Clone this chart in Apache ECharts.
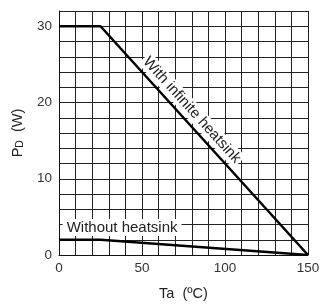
<!DOCTYPE html>
<html><head><meta charset="utf-8">
<script src="https://cdn.jsdelivr.net/npm/echarts@6/dist/echarts.min.js"></script>
<style>html,body{margin:0;padding:0;background:#fff}#c{width:329px;height:306px}</style>
</head><body><div id="c"></div>
<script>
const infiniteX = [0, 25, 150];
const infiniteY = [30, 30, 0];
const withoutX = [0, 25, 150];
const withoutY = [2, 2, 0];
const xLabels = [0, 50, 100, 150];
const yLabels = [0, 10, 20, 30];
const labelInfinite = {text: 'With infinite heatsink', x: 80, y: 19};
const labelWithout = {text: 'Without heatsink', x: 38, y: 3.6};

const FONT = '"Liberation Sans", Arial, sans-serif';
const chart = echarts.init(document.getElementById('c'));
const pair = (xs, ys) => xs.map((x, i) => [x, ys[i]]);
chart.setOption({
  animation: false,
  grid: {left: 59, right: 21, top: 11, bottom: 45},
  xAxis: {
    type: 'value', min: 0, max: 150, interval: 10,
    name: 'Ta  (ºC)', nameLocation: 'middle', nameGap: 31,
    nameTextStyle: {color: '#222', fontSize: 14.5, fontFamily: FONT},
    axisLine: {show: true, lineStyle: {color: '#111', width: 1}},
    axisTick: {show: false},
    splitLine: {show: true, lineStyle: {color: '#222', width: 1}},
    axisLabel: {color: '#333', fontSize: 13.5, fontFamily: FONT, margin: 6,
      formatter: v => xLabels.includes(v) ? String(v) : ''}
  },
  yAxis: {
    type: 'value', min: 0, max: 32, interval: 2,
    name: 'P{s|D}  (W)', nameLocation: 'middle', nameGap: 33, nameRotate: 90,
    nameTextStyle: {color: '#222', fontSize: 14.5, fontFamily: FONT,
      rich: {s: {fontSize: 10.5, fontFamily: FONT, color: '#222', verticalAlign: 'bottom', padding: [6, 0, 0, 0]}}},
    axisLine: {show: true, lineStyle: {color: '#111', width: 1}},
    axisTick: {show: false},
    splitLine: {show: true, lineStyle: {color: '#222', width: 1}},
    axisLabel: {color: '#333', fontSize: 13.5, fontFamily: FONT, margin: 7,
      formatter: v => yLabels.includes(v) ? String(v) : ''}
  },
  series: [
    {type: 'line', data: pair(infiniteX, infiniteY), symbol: 'none',
     lineStyle: {color: '#000', width: 2.5}, z: 5},
    {type: 'line', data: pair(withoutX, withoutY), symbol: 'none',
     lineStyle: {color: '#000', width: 2.5}, z: 5}
  ]
});

const p0 = chart.convertToPixel({gridIndex: 0}, [infiniteX[1], infiniteY[1]]);
const p1 = chart.convertToPixel({gridIndex: 0}, [infiniteX[2], infiniteY[2]]);
const ang = -Math.atan2(p1[1] - p0[1], p1[0] - p0[0]);
const a = chart.convertToPixel({gridIndex: 0}, [labelInfinite.x, labelInfinite.y]);
const b = chart.convertToPixel({gridIndex: 0}, [labelWithout.x, labelWithout.y]);
chart.setOption({
  graphic: [
    {type: 'text', x: a[0], y: a[1], rotation: ang, z: 10,
     style: {text: labelInfinite.text, fill: '#222', font: '15px ' + FONT,
       align: 'center', verticalAlign: 'middle', backgroundColor: '#fff', padding: [1, 2]}},
    {type: 'text', x: b[0], y: b[1], z: 10,
     style: {text: labelWithout.text, fill: '#222', font: '15px ' + FONT,
       align: 'center', verticalAlign: 'middle', backgroundColor: '#fff', padding: [1, 4]}}
  ]
});
</script></body></html>
